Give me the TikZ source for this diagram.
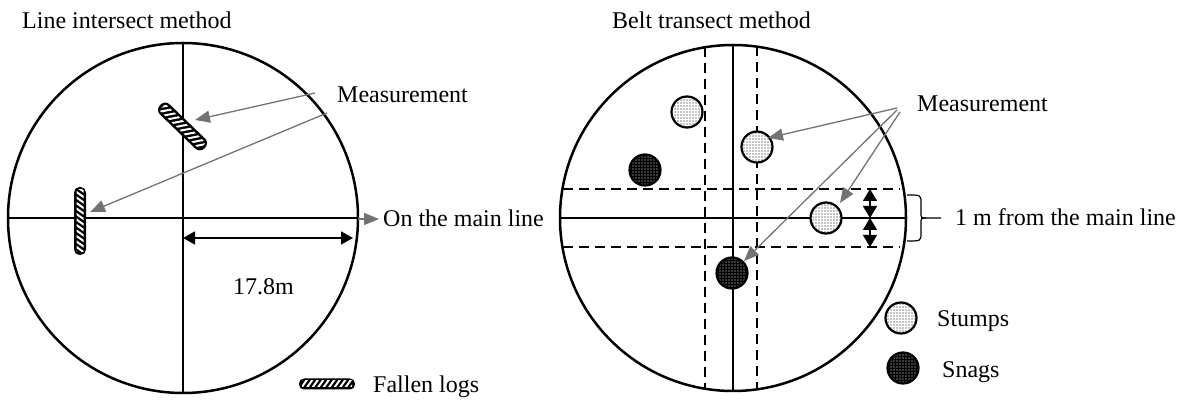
\documentclass[tikz,border=0pt]{standalone}
\usepackage{fontspec}
\setmainfont{Liberation Serif}
\usetikzlibrary{arrows.meta,patterns.meta}
\definecolor{arrgray}{RGB}{115,115,115}
\newcommand\stumpdot[3]{%
  \fill[white] (#2,#3) circle (15.5pt);
  \fill[pattern={Dots[radius=0.7pt,distance=3pt]}, pattern color=black] (#2,#3) circle (15.5pt);
  \draw[line width=2.2pt] (#2,#3) circle (15.5pt);
  \coordinate (#1) at (#2,#3);}
\newcommand\snagdot[3]{%
  \fill[black] (#2,#3) circle (15.5pt);
  \fill[pattern={Dots[radius=0.7pt,distance=3pt]}, pattern color=white] (#2,#3) circle (15.5pt);
  \draw[line width=2.2pt] (#2,#3) circle (15.5pt);
  \coordinate (#1) at (#2,#3);}
\newcommand\fallenlog[6]{%
  \begin{scope}[shift={(#2,#3)}, rotate=#4]
    \fill[rounded corners=#6pt-0.5pt] (-#5/2,-#6) rectangle (#5/2,#6);
    \begin{scope}
      \clip (-#5/2+3,-#6+2.5) rectangle (#5/2-3,#6-2.5);
      \foreach \k in {-45,-39.5,...,45} \draw[white, line width=2pt] (\k-3.5,5) -- (\k+3.5,-5);
    \end{scope}
  \end{scope}
  \coordinate (#1) at (#2,#3);}
\begin{document}
\begin{tikzpicture}[x=1pt,y=-1pt, font=\fontsize{24}{28}\selectfont,
  outline/.style={line width=2.5pt},
  mainline/.style={line width=2pt},
  dashline/.style={line width=2.4pt, dash pattern=on 10pt off 6pt},
  grayarrow/.style={draw=arrgray, line width=1.3pt, -{Triangle[length=15pt,width=12pt]}},
  dimarrow/.style={line width=1.5pt, {Triangle[length=12pt,width=13pt]}-{Triangle[length=12pt,width=13pt]}},
  lbl/.style={anchor=base west, inner sep=0pt}]
\useasboundingbox (0,0) rectangle (1195,403);

% ---------- left panel ----------
\node[lbl] (t1) at (22,29) {Line intersect method};
\coordinate (lc) at (183,218);
\draw[outline] (lc) circle (175pt);
\coordinate (ltop) at (183,43);
\coordinate (lbot) at (183,393);
\coordinate (lleft) at (8,218);
\coordinate (lright) at (358,218);
\draw[mainline] (ltop) -- (lbot);
\draw[mainline] (lleft) -- (lright);

\fallenlog{log1}{182.5}{126.5}{-44}{62}{7}
\fallenlog{log2}{80}{221}{90}{68}{6}

\node[lbl] (m1) at (337,103) {Measurement};
\coordinate (m1a) at (315,93);
\coordinate (m1b) at (327,113);
\coordinate (tipl1) at (195,120);
\coordinate (tipl2) at (90,212);
\draw[grayarrow] (m1a) -- (tipl1);
\draw[grayarrow] (m1b) -- (tipl2);

\coordinate (d1) at (183,238);
\coordinate (d2) at (353,238);
\draw[dimarrow] (d1) -- (d2);
\node[lbl] (len) at (233,295) {17.8m};

\coordinate (om0) at (358,219);
\coordinate (om1) at (379,219);
\draw[grayarrow] (om0) -- (om1);
\node[lbl] (onmain) at (383,227) {On the main line};

\fallenlog{loglegend}{327}{384}{0}{56}{5.5}
\node[lbl] (fl) at (373,393) {Fallen logs};

% ---------- right panel ----------
\node[lbl] (t2) at (612,29) {Belt transect method};
\coordinate (rc) at (733,218);
\coordinate (rtop) at (733,45);
\coordinate (rbot) at (733,391);
\coordinate (rleft) at (560,218);
\coordinate (rright) at (906,218);
\draw[mainline] (rtop) -- (rbot);
\draw[mainline] (rleft) -- (rright);
\coordinate (v1a) at (705,47.5);
\coordinate (v1b) at (705,388.5);
\coordinate (v2a) at (757,46.5);
\coordinate (v2b) at (757,389.5);
\coordinate (h1a) at (563,189);
\coordinate (h1b) at (900,189);
\coordinate (h2a) at (563,247);
\coordinate (h2b) at (900,247);
\draw[dashline] (v1a) -- (v1b);
\draw[dashline] (v2a) -- (v2b);
\draw[dashline] (h1a) -- (h1b);
\draw[dashline] (h2a) -- (h2b);
\draw[outline] (rc) circle (173pt);

\stumpdot{s1}{687}{112}
\stumpdot{s2}{757}{147}
\stumpdot{s3}{826}{218}
\snagdot{g1}{645}{170}
\snagdot{g2}{732}{273}

\coordinate (e1) at (870,189);
\coordinate (e2) at (870,218);
\coordinate (e3) at (870,247);
\draw[line width=1.5pt, {Triangle[length=12pt,width=14pt]}-{Triangle[length=12pt,width=14pt]}] (e1) -- (e2);
\draw[line width=1.5pt, {Triangle[length=12pt,width=14pt]}-{Triangle[length=12pt,width=14pt]}] (e2) -- (e3);

\node[lbl] (m2) at (917,112) {Measurement};
\coordinate (r1) at (897,108);
\coordinate (r2) at (900,112);
\coordinate (r3) at (897,110);
\coordinate (tr1) at (768,138);
\coordinate (tr2) at (840,203);
\coordinate (tr3) at (744,261);
\draw[grayarrow] (r1) -- (tr1);
\draw[grayarrow] (r2) -- (tr2);
\draw[grayarrow] (r3) -- (tr3);

% brace
\coordinate (b0) at (907,195);
\coordinate (b1) at (907,241);
\coordinate (btip) at (941,218);
\draw[line width=1.2pt] (b0) .. controls (921,195) .. (921,203) -- (921,212)
  .. controls (921,218) .. (926,218) -- (btip);
\draw[line width=1.2pt] (b1) .. controls (921,241) .. (921,233) -- (921,224)
  .. controls (921,218) .. (926,218);
\node[lbl] (onem) at (955,226) {1 m from the main line};

% legend
\stumpdot{ls}{901}{318}
\snagdot{lg}{903}{368}
\node[lbl] (stl) at (937,327) {Stumps};
\node[lbl] (sgl) at (942,378) {Snags};
\end{tikzpicture}
\end{document}
